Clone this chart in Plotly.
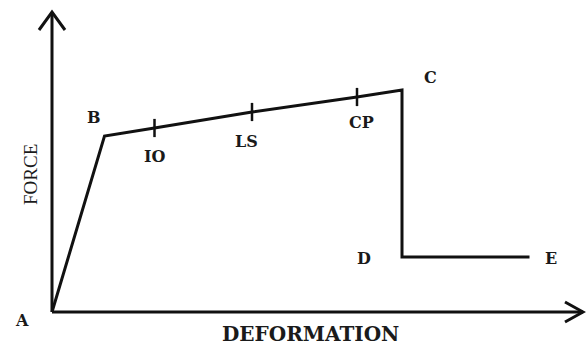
import plotly.graph_objects as go

# points of the idealised force-deformation curve (arbitrary units)
point_names = ["A", "B", "IO", "LS", "CP", "C", "D", "E"]
deformation = [0.0, 1.05, 2.05, 4.0, 6.1, 7.0, 7.0, 9.55]
force = [0.0, 8.8, 9.2, 10.0, 10.75, 11.1, 2.75, 2.75]
# performance levels marked with ticks on the B-C branch
level_names = ["IO", "LS", "CP"]

x_label = "DEFORMATION"
y_label = "FORCE"

# axis extents (where the arrow heads end)
x_max = 10.62
y_max = 15.0

fig = go.Figure()

fig.add_scatter(x=deformation, y=force, mode="lines",
                line=dict(color="#111", width=3), showlegend=False,
                hoverinfo="skip")

lvl_x = [deformation[point_names.index(n)] for n in level_names]
lvl_y = [force[point_names.index(n)] for n in level_names]
fig.add_scatter(x=lvl_x, y=lvl_y, mode="markers",
                marker=dict(symbol="line-ns", size=13,
                            line=dict(color="#111", width=2.5)),
                showlegend=False, hoverinfo="skip")

# axes with open arrow heads
ax_line = dict(color="#111", width=3)
fig.add_shape(type="line", x0=0, y0=0, x1=x_max, y1=0, line=ax_line)
fig.add_shape(type="line", x0=0, y0=0, x1=0, y1=y_max, line=ax_line)
fig.add_shape(type="path",
              path=f"M {x_max-0.36},{0.5} L {x_max},0 L {x_max-0.36},{-0.5}",
              line=ax_line)
fig.add_shape(type="path",
              path=f"M -0.26,{y_max-0.9} L 0,{y_max} L 0.26,{y_max-0.9}",
              line=ax_line)

# label offsets in pixels
offsets = {"A": (-30, -8), "B": (-11, 19), "IO": (0, -28), "LS": (-6, -29),
           "CP": (4, -25), "C": (28, 13), "D": (-38, -1), "E": (21, -1)}
lab_font = dict(family="DejaVu Serif", size=16, color="#1a1a1a", weight="bold")
for n, xv, yv in zip(point_names, deformation, force):
    dx, dy = offsets[n]
    fig.add_annotation(x=xv, y=yv, text=n, showarrow=False,
                       xshift=dx, yshift=dy, font=lab_font)

fig.add_annotation(x=310/586, y=1-334/347, xref="paper", yref="paper",
                   xanchor="center", yanchor="middle",
                   text=x_label, showarrow=False,
                   font=dict(family="DejaVu Serif", size=20, color="#1a1a1a",
                             weight="bold"))
fig.add_annotation(x=30/586, y=1-175/347, xref="paper", yref="paper",
                   xanchor="center", yanchor="middle",
                   text=y_label, showarrow=False, textangle=-90,
                   font=dict(family="Liberation Serif", size=19, color="#1a1a1a"))

fig.update_layout(width=586, height=347,
                  margin=dict(l=0, r=0, t=0, b=0),
                  plot_bgcolor="white", paper_bgcolor="white",
                  xaxis=dict(range=[-1.04, 10.68], visible=False,
                             fixedrange=True),
                  yaxis=dict(range=[-1.75, 15.6], visible=False,
                             fixedrange=True))

fig.write_html("out.html", config={"displayModeBar": False},
               post_script="document.body.style.margin='0';"
                           "document.body.style.overflow='hidden';")
